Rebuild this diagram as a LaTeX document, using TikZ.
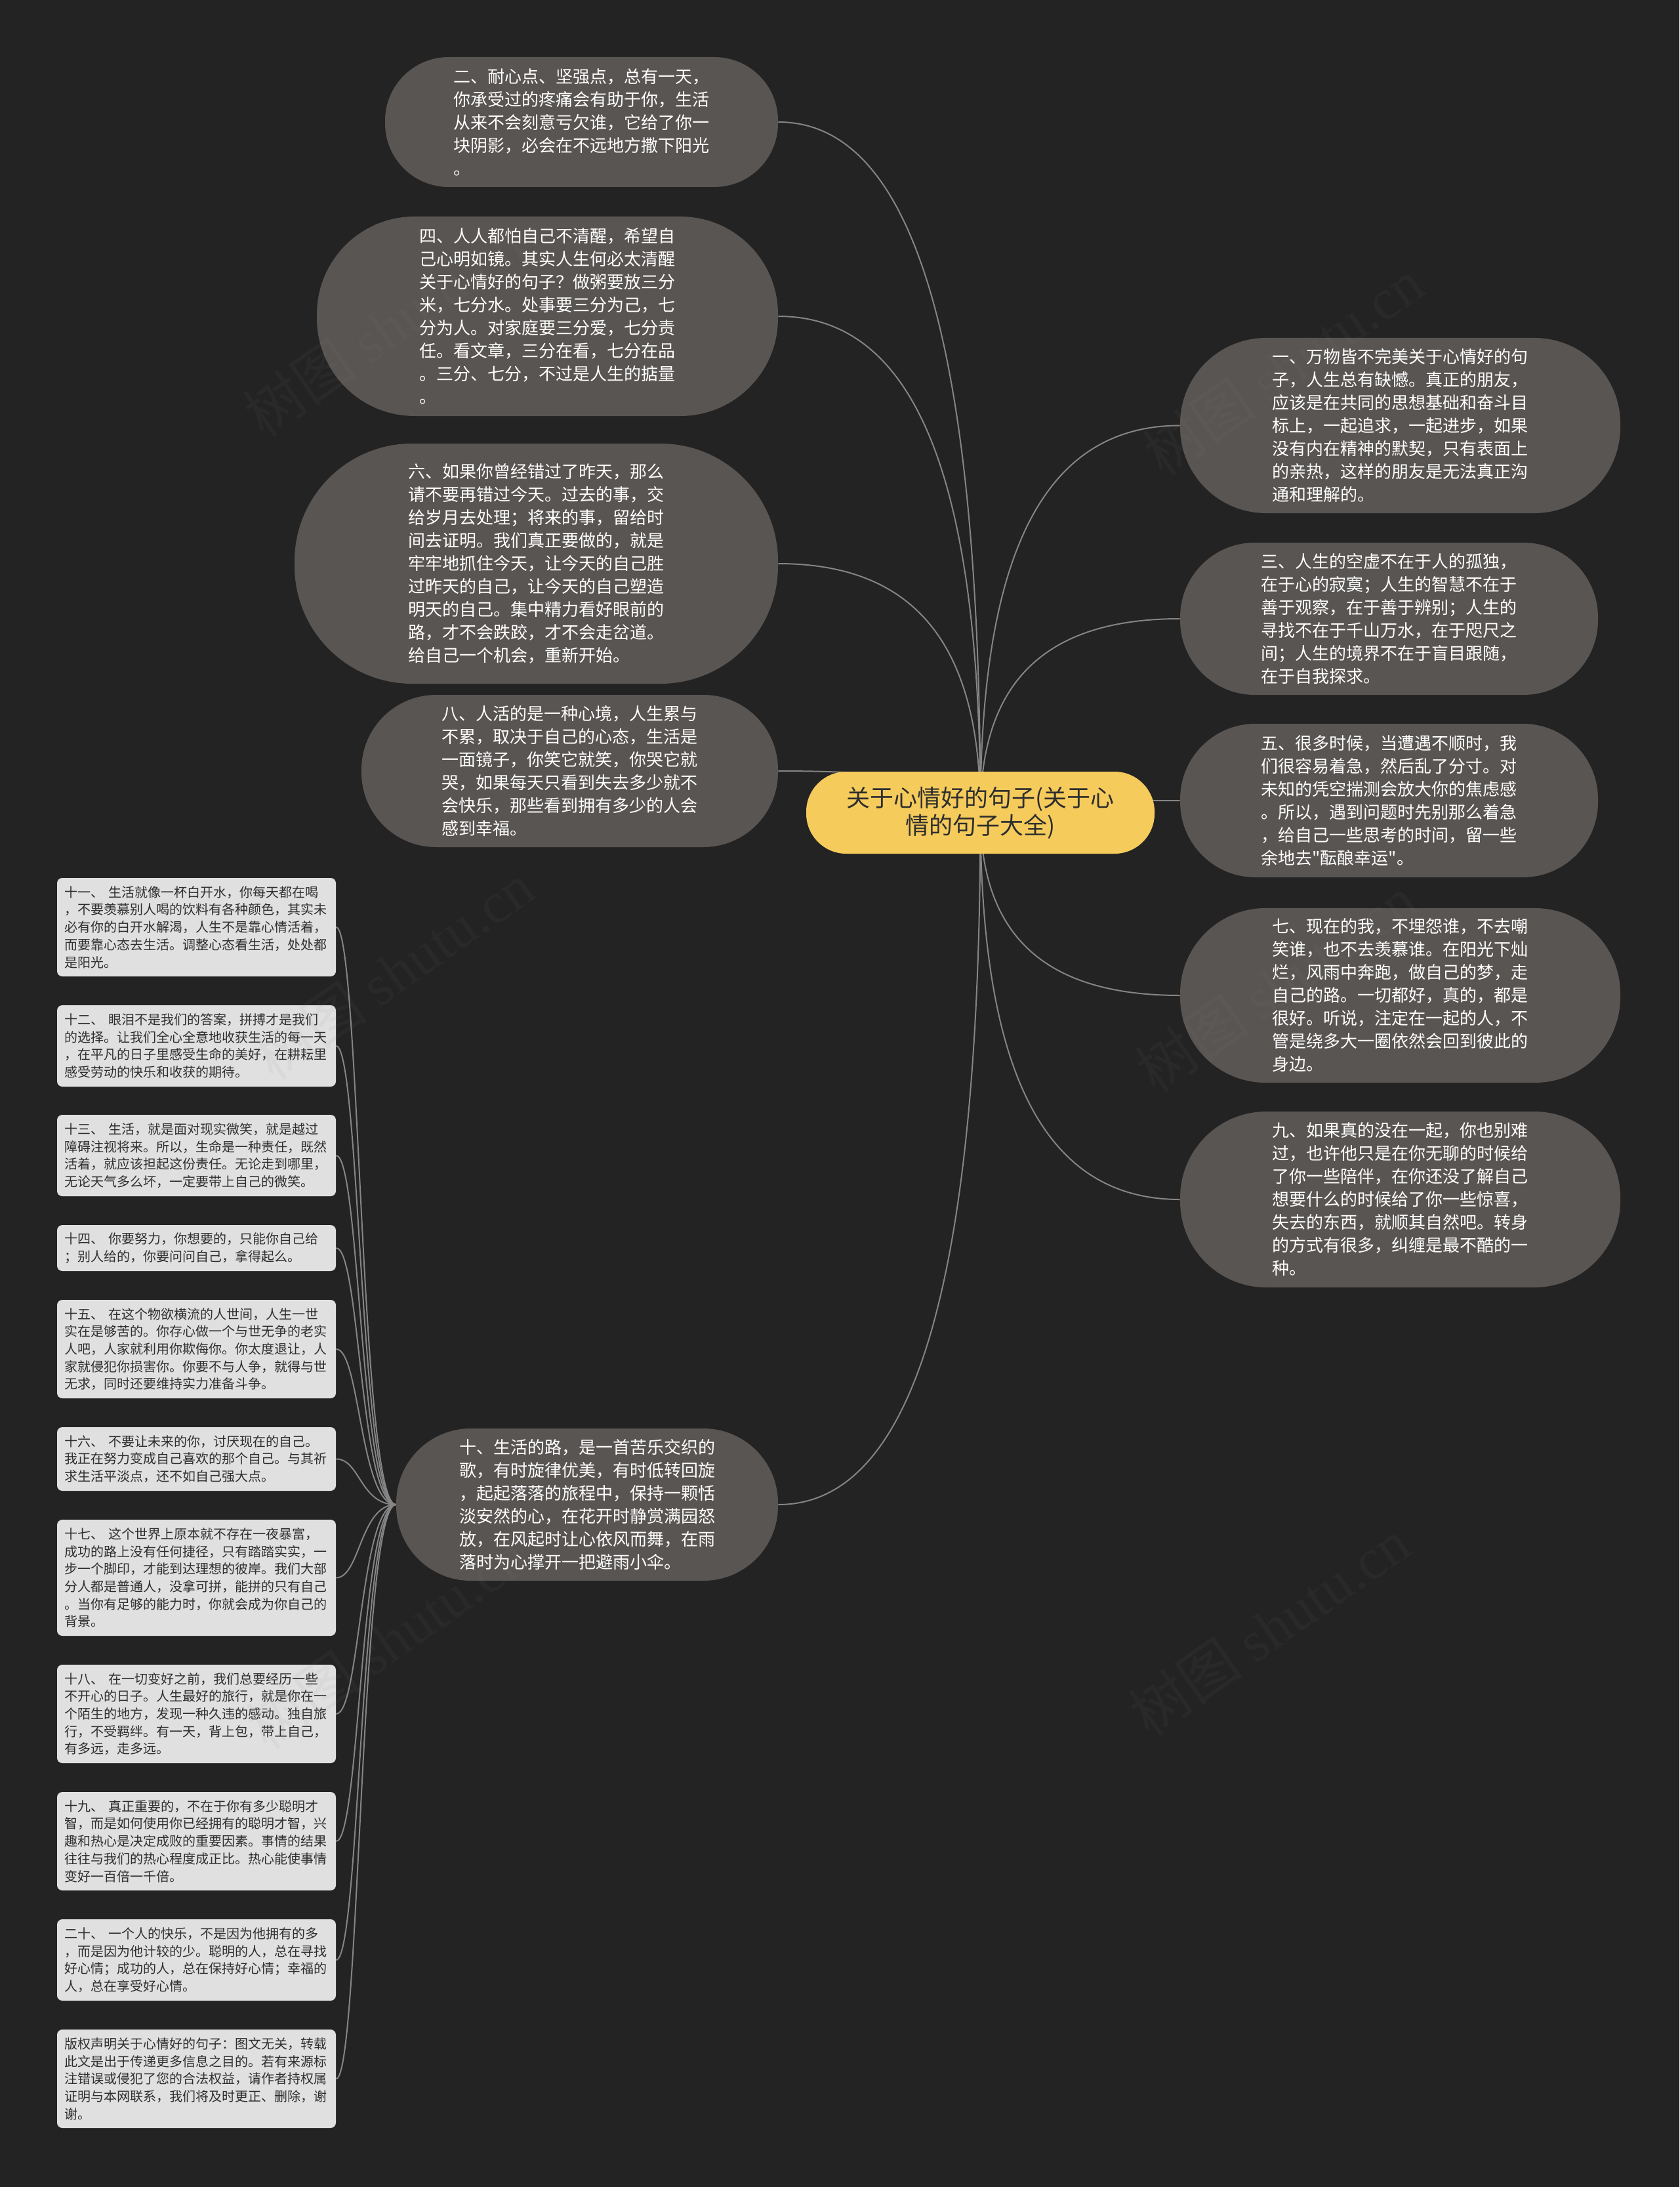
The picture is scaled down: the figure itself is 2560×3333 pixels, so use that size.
\documentclass[tikz,border=0pt]{standalone}
\usepackage{fontspec}
\setmainfont{Noto Sans CJK SC}
\newfontfamily\cjkplain{Noto Sans CJK SC}
\newfontfamily\wmlatin{Liberation Serif}
\usetikzlibrary{calc}
\pgfdeclarelayer{bg}
\pgfdeclarelayer{lines}
\pgfdeclarelayer{top}
\pgfsetlayers{bg,lines,main,top}
\definecolor{pagebg}{HTML}{232323}
\definecolor{bubfill}{HTML}{595553}
\definecolor{rootfill}{HTML}{F5CB5C}
\definecolor{boxfill}{HTML}{E0E0E0}
\definecolor{linecol}{HTML}{858585}
\definecolor{boxtext}{HTML}{2E2E2E}
\newcommand\mmlink[2]{\draw[conn] let \p1=(#1), \p2=(#2) in (\p1) .. controls ({\x1+0.7*(\x2-\x1)},\y1) and (\x2,{\y1+0.35*(\y2-\y1)}) .. (\p2);}
\newcommand\mmside[2]{\draw[conn] let \p1=(#1), \p2=(#2) in (\p1) .. controls ({\x1+0.4*(\x2-\x1)},\y1) and ({\x1+0.4*(\x2-\x1)},\y2) .. (\p2);}
\newcommand\sq{{\cjkplain\symbol{34}}}
\tikzset{
  bub/.style 2 args={rectangle, fill=bubfill, text=white, align=left, inner sep=0pt,
    font=\fontsize{13pt}{17.5pt}\selectfont,
    minimum width=#1, minimum height=#2, rounded corners=0.49*#2},
  rootbox/.style={rectangle, fill=rootfill, text=boxtext, align=center, inner sep=0pt,
    font=\fontsize{18pt}{21pt}\selectfont,
    minimum width=265.5pt, minimum height=62.5pt, rounded corners=30.5pt},
  sbox/.style={rectangle, fill=boxfill, text=boxtext, align=left, inner sep=0pt,
    text width=201pt,
    font=\fontsize{10pt}{13.35pt}\selectfont,
    minimum width=212.5pt, minimum height=#1, rounded corners=4pt},
  conn/.style={draw=linecol, line width=1pt},
  wm/.style={text=gray, opacity=0.07, font=\fontsize{44pt}{44pt}\selectfont, rotate=35, inner sep=0pt}
}
\begin{document}
\begin{tikzpicture}[x=0.5pt,y=-0.5pt]
\begin{pgfonlayer}{bg}
\fill[pagebg] (0,0) rectangle (2560,3333);
\end{pgfonlayer}
\useasboundingbox (0,0) rectangle (2560,3333);

% root
\node[rootbox] (root) at (1494.5,1238.5) {关于心情好的句子(关于心\\情的句子大全)};

% left big bubbles
\node[bub={299.5pt}{99pt}] (n2) at (886.5,186) {二、耐心点、坚强点，总有一天，\\你承受过的疼痛会有助于你，生活\\从来不会刻意亏欠谁，它给了你一\\块阴影，必会在不远地方撒下阳光\\。};
\node[bub={351.5pt}{152pt}] (n4) at (834.5,482) {四、人人都怕自己不清醒，希望自\\己心明如镜。其实人生何必太清醒\\关于心情好的句子？做粥要放三分\\米，七分水。处事要三分为己，七\\分为人。对家庭要三分爱，七分责\\任。看文章，三分在看，七分在品\\。三分、七分，不过是人生的掂量\\。};
\node[bub={368.5pt}{183pt}] (n6) at (817.5,859) {六、如果你曾经错过了昨天，那么\\请不要再错过今天。过去的事，交\\给岁月去处理；将来的事，留给时\\间去证明。我们真正要做的，就是\\牢牢地抓住今天，让今天的自己胜\\过昨天的自己，让今天的自己塑造\\明天的自己。集中精力看好眼前的\\路，才不会跌跤，才不会走岔道。\\给自己一个机会，重新开始。};
\node[bub={317.5pt}{116pt}] (n8) at (868.5,1175) {八、人活的是一种心境，人生累与\\不累，取决于自己的心态，生活是\\一面镜子，你笑它就笑，你哭它就\\哭，如果每天只看到失去多少就不\\会快乐，那些看到拥有多少的人会\\感到幸福。};
\node[bub={291pt}{116pt}] (n10) at (895,2293) {十、生活的路，是一首苦乐交织的\\歌，有时旋律优美，有时低转回旋\\，起起落落的旅程中，保持一颗恬\\淡安然的心，在花开时静赏满园怒\\放，在风起时让心依风而舞，在雨\\落时为心撑开一把避雨小伞。};

% right big bubbles
\node[bub={335.5pt}{133.5pt}] (n1) at (2134.5,648.5) {一、万物皆不完美关于心情好的句\\子，人生总有缺憾。真正的朋友，\\应该是在共同的思想基础和奋斗目\\标上，一起追求，一起进步，如果\\没有内在精神的默契，只有表面上\\的亲热，这样的朋友是无法真正沟\\通和理解的。};
\node[bub={318.5pt}{116pt}] (n3) at (2117.5,943) {三、人生的空虚不在于人的孤独，\\在于心的寂寞；人生的智慧不在于\\善于观察，在于善于辨别；人生的\\寻找不在于千山万水，在于咫尺之\\间；人生的境界不在于盲目跟随，\\在于自我探求。};
\node[bub={318.5pt}{117pt}] (n5) at (2117.5,1220) {五、很多时候，当遭遇不顺时，我\\们很容易着急，然后乱了分寸。对\\未知的凭空揣测会放大你的焦虑感\\。所以，遇到问题时先别那么着急\\，给自己一些思考的时间，留一些\\余地去\sq 酝酿幸运\sq 。};
\node[bub={335.5pt}{133pt}] (n7) at (2134.5,1517) {七、现在的我，不埋怨谁，不去嘲\\笑谁，也不去羡慕谁。在阳光下灿\\烂，风雨中奔跑，做自己的梦，走\\自己的路。一切都好，真的，都是\\很好。听说，注定在一起的人，不\\管是绕多大一圈依然会回到彼此的\\身边。};
\node[bub={335.5pt}{134pt}] (n9) at (2134.5,1828) {九、如果真的没在一起，你也别难\\过，也许他只是在你无聊的时候给\\了你一些陪伴，在你还没了解自己\\想要什么的时候给了你一些惊喜，\\失去的东西，就顺其自然吧。转身\\的方式有很多，纠缠是最不酷的一\\种。};

% small boxes
\node[sbox=75pt] (s11) at (299.5,1413) {十一、 生活就像一杯白开水，你每天都在喝\\，不要羡慕别人喝的饮料有各种颜色，其实未\\必有你的白开水解渴，人生不是靠心情活着，\\而要靠心态去生活。调整心态看生活，处处都\\是阳光。};
\node[sbox=62pt] (s12) at (299.5,1594) {十二、 眼泪不是我们的答案，拼搏才是我们\\的选择。让我们全心全意地收获生活的每一天\\，在平凡的日子里感受生命的美好，在耕耘里\\感受劳动的快乐和收获的期待。};
\node[sbox=62pt] (s13) at (299.5,1761) {十三、 生活，就是面对现实微笑，就是越过\\障碍注视将来。所以，生命是一种责任，既然\\活着，就应该担起这份责任。无论走到哪里，\\无论天气多么坏，一定要带上自己的微笑。};
\node[sbox=35pt] (s14) at (299.5,1902) {十四、 你要努力，你想要的，只能你自己给\\；别人给的，你要问问自己，拿得起么。};
\node[sbox=75pt] (s15) at (299.5,2056) {十五、 在这个物欲横流的人世间，人生一世\\实在是够苦的。你存心做一个与世无争的老实\\人吧，人家就利用你欺侮你。你太度退让，人\\家就侵犯你损害你。你要不与人争，就得与世\\无求，同时还要维持实力准备斗争。};
\node[sbox=48.5pt] (s16) at (299.5,2223.5) {十六、 不要让未来的你，讨厌现在的自己。\\我正在努力变成自己喜欢的那个自己。与其祈\\求生活平淡点，还不如自己强大点。};
\node[sbox=88.5pt] (s17) at (299.5,2404.5) {十七、 这个世界上原本就不存在一夜暴富，\\成功的路上没有任何捷径，只有踏踏实实，一\\步一个脚印，才能到达理想的彼岸。我们大部\\分人都是普通人，没拿可拼，能拼的只有自己\\。当你有足够的能力时，你就会成为你自己的\\背景。};
\node[sbox=75pt] (s18) at (299.5,2612) {十八、 在一切变好之前，我们总要经历一些\\不开心的日子。人生最好的旅行，就是你在一\\个陌生的地方，发现一种久违的感动。独自旅\\行，不受羁绊。有一天，背上包，带上自己，\\有多远，走多远。};
\node[sbox=75pt] (s19) at (299.5,2806) {十九、 真正重要的，不在于你有多少聪明才\\智，而是如何使用你已经拥有的聪明才智，兴\\趣和热心是决定成败的重要因素。事情的结果\\往往与我们的热心程度成正比。热心能使事情\\变好一百倍一千倍。};
\node[sbox=62pt] (s20) at (299.5,2987) {二十、 一个人的快乐，不是因为他拥有的多\\，而是因为他计较的少。聪明的人，总在寻找\\好心情；成功的人，总在保持好心情；幸福的\\人，总在享受好心情。};
\node[sbox=75pt] (s21) at (299.5,3168) {版权声明关于心情好的句子：图文无关，转载\\此文是出于传递更多信息之目的。若有来源标\\注错误或侵犯了您的合法权益，请作者持权属\\证明与本网联系，我们将及时更正、删除，谢\\谢。};

% connectors
\begin{pgfonlayer}{lines}
\mmlink{n2.east}{root.center}
\mmlink{n4.east}{root.center}
\mmlink{n6.east}{root.center}
\mmlink{n8.east}{root.center}
\mmlink{n10.east}{root.center}
\mmlink{n1.west}{root.center}
\mmlink{n3.west}{root.center}
\mmlink{n5.west}{root.center}
\mmlink{n7.west}{root.center}
\mmlink{n9.west}{root.center}
\foreach \s in {s11,s12,s13,s14,s15,s16,s17,s18,s19,s20,s21}{\mmside{\s.east}{n10.west}}
\end{pgfonlayer}

% watermarks
\begin{pgfonlayer}{top}
\node[wm] (w1) at (585,500) {树图 {\wmlatin shutu.cn}};
\node[wm] (w2) at (1956,560) {树图 {\wmlatin shutu.cn}};
\node[wm] (w3) at (600,1480) {树图 {\wmlatin shutu.cn}};
\node[wm] (w4) at (1945,1500) {树图 {\wmlatin shutu.cn}};
\node[wm] (w5) at (590,2500) {树图 {\wmlatin shutu.cn}};
\node[wm] (w6) at (1935,2480) {树图 {\wmlatin shutu.cn}};
\end{pgfonlayer}
\end{tikzpicture}
\end{document}
